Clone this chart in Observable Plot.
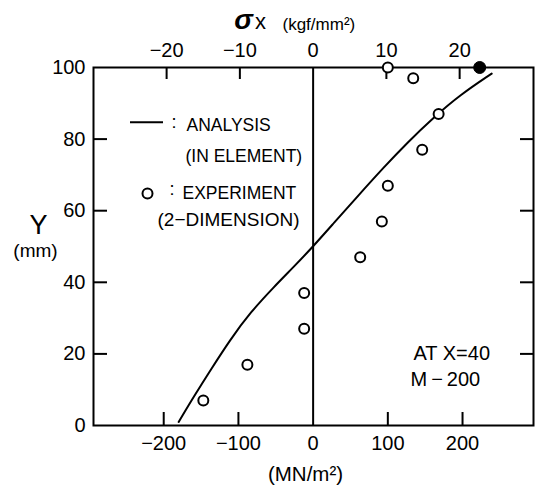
<!DOCTYPE html>
<html><head><meta charset="utf-8">
<script src="https://cdn.jsdelivr.net/npm/d3@7"></script>
<script src="https://cdn.jsdelivr.net/npm/@observablehq/plot@0.6"></script>
<style>body{margin:0;background:#fff}</style>
</head><body><div id="chart"></div>
<script>
// ---- data ----
const KGF = 9.80665; // MN/m^2 per kgf/mm^2
const xTicksMN = [-200, -100, 0, 100, 200];
const xTicksKgf = [-20, -10, 0, 10, 20];
const yTicks = [0, 20, 40, 60, 80, 100];
const yInnerTicks = [20, 40, 60, 80];

const analysisX = [-180, -160, -137, -111, -84, -53, -26, 0, 27.5, 59, 94, 126, 161, 197, 239];
const analysisY = [1, 8, 15.6, 24, 31.6, 38.6, 44.3, 50, 56.5, 63.9, 72, 79, 86, 92.4, 98.3];

const expX = [-147, -88, -12, -12, 63, 92, 100, 146, 168, 134, 100];
const expY = [7, 17, 27, 37, 47, 57, 67, 77, 87, 97, 100];

const filledX = [223];
const filledY = [100];

// ---- layout ----
const W = 539, H = 486;
const mL = 93, mR = 6, mT = 67, mB = 61;
const xDom = [-294, 295], yDom = [0, 100];
const xInv = p => xDom[0] + (p - mL) * (xDom[1] - xDom[0]) / (W - mL - mR);
const yInv = p => yDom[0] + (H - mB - p) * (yDom[1] - yDom[0]) / (H - mT - mB);
const dxu = px => px * (xDom[1] - xDom[0]) / (W - mL - mR);
const dyu = px => px * (yDom[1] - yDom[0]) / (H - mT - mB);

const analysis = analysisX.map((x, i) => ({x, y: analysisY[i]}));
const experiment = expX.map((x, i) => ({x, y: expY[i]}));
const filled = filledX.map((x, i) => ({x, y: filledY[i]}));

const minus = v => (v < 0 ? "\u2212" : "") + Math.abs(v);
const FONT = "'Liberation Sans', Arial, Helvetica, sans-serif";

// text placed in pixel space relative to the frame's top-left
const lbl = (t, px, py, o = {}) => Plot.text([t], {
  frameAnchor: "top-left", dx: px - mL, dy: py - mT, text: d => d,
  textAnchor: "start", lineAnchor: "bottom", fontSize: 17.5, fill: "black", ...o
});

const chart = Plot.plot({
  width: W, height: H,
  marginLeft: mL, marginRight: mR, marginTop: mT, marginBottom: mB,
  x: {domain: xDom, axis: null},
  y: {domain: yDom, axis: null},
  style: {fontFamily: FONT, background: "white", color: "black"},
  marks: [
    Plot.frame({stroke: "black", strokeWidth: 2}),
    Plot.ruleX([0], {stroke: "black", strokeWidth: 2}),
    // tick marks pointing inward
    Plot.ruleX(xTicksMN.filter(d => d !== 0), {y1: 0, y2: dyu(13), strokeWidth: 2}),
    Plot.ruleX(xTicksKgf.filter(d => d !== 0).map(k => k * KGF), {y1: 100 - dyu(12), y2: 100, strokeWidth: 2}),
    Plot.ruleY(yInnerTicks, {x1: xDom[0], x2: xDom[0] + dxu(14), strokeWidth: 2}),
    Plot.ruleY(yInnerTicks, {x1: xDom[1] - dxu(13), x2: xDom[1], strokeWidth: 2}),
    // tick labels
    Plot.text(xTicksMN, {x: d => d, frameAnchor: "bottom", dy: 10, lineAnchor: "top", text: minus, fontSize: 20, fill: "black"}),
    Plot.text(xTicksKgf, {x: k => k * KGF, frameAnchor: "top", dy: -11, lineAnchor: "bottom", text: minus, fontSize: 20, fill: "black"}),
    Plot.text(yTicks, {y: d => d, frameAnchor: "left", dx: -8, textAnchor: "end", lineAnchor: "middle", text: d => String(d), fontSize: 20, fill: "black"}),
    // data
    Plot.line(analysis, {x: "x", y: "y", curve: "basis", stroke: "black", strokeWidth: 2}),
    Plot.dot(experiment, {x: "x", y: "y", r: 5, stroke: "black", fill: "white", strokeWidth: 2}),
    Plot.dot(filled, {x: "x", y: "y", r: 6, stroke: "black", fill: "black", strokeWidth: 1}),
    // legend
    Plot.ruleY([yInv(121.7)], {x1: xInv(130), x2: xInv(163), stroke: "black", strokeWidth: 2}),
    lbl(":", 171, 127, {fontSize: 18}),
    lbl("ANALYSIS", 186, 130),
    lbl("(IN ELEMENT)", 185, 161),
    Plot.dot([0], {frameAnchor: "top-left", dx: 147 - mL, dy: 193 - mT, r: 5, stroke: "black", fill: "white", strokeWidth: 2}),
    lbl(":", 169, 194, {fontSize: 18}),
    lbl("EXPERIMENT", 182, 198),
    lbl("(2\u2212DIMENSION)", 157, 225, {fontSize: 19}),
    // annotation
    lbl("AT X=40", 413, 359, {fontSize: 20}),
    lbl("M\u2009\u2212\u2009200", 410, 385, {fontSize: 20}),
    // axis titles
    lbl("Y", 38, 233, {fontSize: 27, textAnchor: "middle"}),
    lbl("(mm)", 35, 256, {fontSize: 19, textAnchor: "middle"}),
    lbl("(MN/m\u00B2)", 305, 480, {fontSize: 20.5, textAnchor: "middle"}),
    lbl("\u03C3", 243, 28, {fontSize: 28, fontWeight: "bold", fontStyle: "italic", textAnchor: "middle"}),
    lbl("x", 260, 28, {fontSize: 22, textAnchor: "middle"}),
    lbl("(kgf/mm\u00B2)", 282, 29, {fontSize: 17})
  ]
});
document.getElementById("chart").appendChild(chart);
</script>
</body></html>
